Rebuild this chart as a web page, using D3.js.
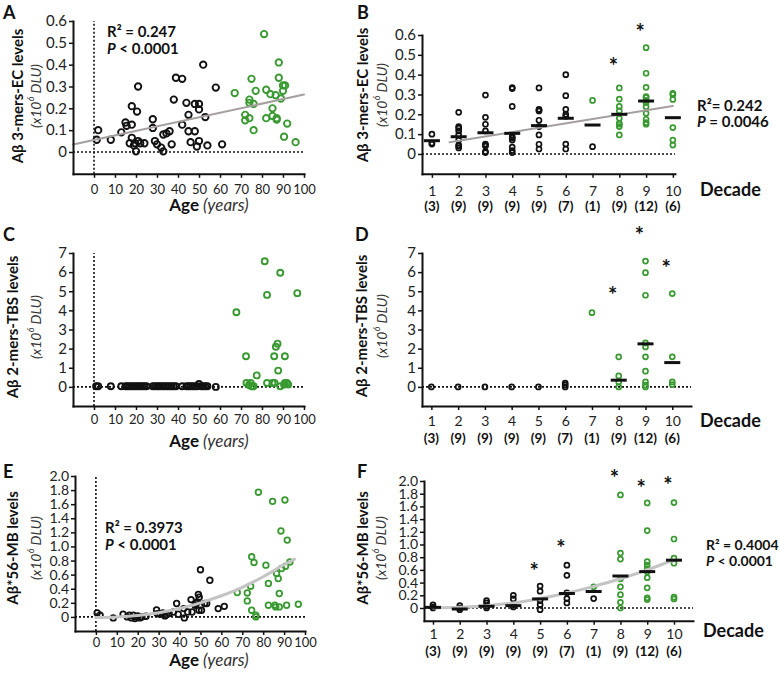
<!DOCTYPE html>
<html><head><meta charset="utf-8">
<script src="https://cdn.jsdelivr.net/npm/d3@7"></script>
<style>body{margin:0;background:#fff}svg{display:block}text{font-family:Lato,'Open Sans',sans-serif}</style>
</head><body><svg id="c" width="780" height="673"></svg>
<script>
// ---------- DATA ----------
const ageTicks = [0,10,20,30,40,50,60,70,80,90,100];
const decades = [1,2,3,4,5,6,7,8,9,10];
const decadeCounts = ["(3)","(9)","(9)","(9)","(9)","(7)","(1)","(9)","(12)","(6)"];
const ticksEC = [0,0.1,0.2,0.3,0.4,0.5,0.6];
const ticksTBS = [0,1,2,3,4,5,6,7];
const ticksMB = [0,0.2,0.4,0.6,0.8,1.0,1.2,1.4,1.6,1.8,2.0];

// Panel A: age vs 3-mers-EC
const panelA_black = [[1.3,0.056],[2,0.10],[8,0.056],[13,0.09],[15,0.135],[15.5,0.12],[18,0.21],[18,0.125],[17,0.04],[18,0.065],[19.5,0.04],[20,0.003],[20.5,0.185],[21,0.30],[22,0.04],[24,0.04],[28,0.15],[28,0.11],[29,0.05],[30,0.035],[32,0.02],[33,0.003],[33,0.08],[34.5,0.085],[36,0.095],[37,0.035],[38,0.24],[39,0.34],[42,0.335],[42,0.125],[44,0.225],[45,0.17],[45,0.095],[46,0.045],[48,0.22],[48,0.095],[49,0.025],[50,0.22],[50,0.195],[50,0.05],[52,0.40],[53,0.16],[54,0.03],[58,0.295],[61,0.035],[19,0.03],[21,0.05]];
const panelA_green = [[67,0.27],[72,0.17],[72,0.145],[74,0.24],[74,0.225],[74,0.155],[75,0.335],[76,0.22],[76,0.10],[77,0.28],[81,0.54],[82,0.285],[82,0.155],[84,0.265],[85,0.20],[85,0.165],[86.5,0.26],[87,0.155],[87,0.148],[88,0.41],[88,0.34],[89,0.245],[90,0.28],[90,0.305],[91,0.305],[92,0.13],[90.5,0.07],[96,0.045]];
const panelA_fit = [[-10,0.034],[100,0.263]];

// Panel B: decade vs 3-mers-EC
const panelB_black = [[1,0.10],[1,0.05],[1,0.055],
 [2,0.21],[2,0.138],[2,0.13],[2,0.116],[2,0.096],[2,0.07],[2,0.045],[2,0.03],[2,0.04],
 [3,0.297],[3,0.185],[3,0.15],[3,0.116],[3,0.05],[3,0.04],[3,0.012],[3,0.007],[3,0.045],
 [4,0.335],[4,0.24],[4,0.087],[4,0.07],[4,0.035],[4,0.017],[4,0.007],[4,0.33],[4,0.08],
 [5,0.333],[5,0.225],[5,0.217],[5,0.17],[5,0.138],[5,0.096],[5,0.049],[5,0.025],[5,0.22],
 [6,0.40],[6,0.294],[6,0.225],[6,0.2],[6,0.05],[6,0.025],[6,0.19],
 [7,0.037]];
const panelB_green = [[7,0.27],
 [8,0.333],[8,0.277],[8,0.24],[8,0.218],[8,0.18],[8,0.155],[8,0.138],[8,0.096],[8,0.15],
 [9,0.536],[9,0.407],[9,0.336],[9,0.289],[9,0.27],[9,0.238],[9,0.205],[9,0.175],[9,0.158],[9,0.15],[9,0.26],[9,0.285],
 [10,0.306],[10,0.275],[10,0.133],[10,0.07],[10,0.045],[10,0.3]];
const panelB_medians = [0.067,0.087,0.107,0.104,0.143,0.18,0.146,0.2,0.267,0.183];
const panelB_fit = [[1.66,0.059],[10,0.242]];
const panelB_stars = [[8,0.459],[9,0.63]];

// Panel C: age vs 2-mers-TBS
const panelC_black = [[1,0.03],[2,0.03],[8,0.03],[13,0.03],[15,0.03],[16,0.03],[17,0.03],[18,0.03],[19,0.03],[20,0.03],[21,0.03],[22,0.03],[23,0.03],[24,0.03],[25,0.03],[28,0.03],[29,0.03],[30,0.03],[31,0.03],[32,0.03],[33,0.03],[34,0.03],[35,0.03],[36,0.03],[37,0.03],[38,0.03],[39,0.03],[42,0.03],[44,0.03],[45,0.03],[46,0.03],[47,0.03],[48,0.03],[49,0.03],[50,0.15],[51,0.03],[52,0.03],[53,0.03],[54,0.03],[58,0.0]];
const panelC_green = [[67.8,3.9],[72.4,1.6],[72.6,0.2],[74.6,0.2],[75,0.03],[76,0.03],[77.5,0.6],[81.3,6.57],[82.4,4.81],[82.4,0.2],[85,0.2],[85.8,1.6],[86.6,2.1],[87.4,2.26],[87.7,0.85],[88.7,5.97],[88.7,0.03],[90.9,1.6],[90.9,0.2],[91.9,0.2],[92.5,0.12],[96.8,4.9],[86,0.2],[90.5,0.12],[73.8,0.1],[75.5,0.03]];

// Panel D: decade vs 2-mers-TBS
const panelD_black = [[1,0],[2,0],[3,0],[4,0],[5,0],[6,0],[6,0.1],[6,0.2]];
const panelD_green = [[7,3.88],[8,1.57],[8,0.57],[8,0.26],[8,0],[9,6.58],[9,5.97],[9,4.79],[9,2.3],[9,2.09],[9,1.57],[9,0.82],[9,0.26],[9,0.09],[9,0],[10,4.88],[10,1.57],[10,0.26],[10,0.12]];
const panelD_medians = [[8,0.35],[9,2.25],[10,1.27]];
const panelD_stars = [[8,4.96],[9,8.1],[10,6.37]];

// Panel E: age vs Ab*56-MB
const panelE_black = [[0.6,0.057],[2,0.024],[8.3,-0.014],[13,0.038],[15,0],[16,0.024],[17,-0.014],[17.9,0.024],[18.7,-0.024],[19.5,0],[20,0.014],[21,-0.014],[22,0],[24,0.01],[29,0.10],[29.3,0.047],[30.6,0.038],[32,0.057],[33,0.014],[33.8,0.033],[35,0.047],[37,0.07],[38.6,0.19],[39.4,0.038],[42,0.118],[42.3,-0.014],[43.9,0.07],[45.5,0.246],[46,0.07],[47.4,0.166],[48,0.19],[48.5,0.213],[49,0.32],[49.3,0.095],[49.4,0.28],[50,0.67],[50.5,0.095],[52,0.19],[53,0.19],[54.5,0.52],[58.5,0.118],[61.4,0.15]];
const panelE_green = [[67.6,0.346],[72.4,0.34],[72.4,0.227],[74,0.436],[74.5,0.095],[74.5,0.853],[75.6,0.773],[76.5,0.024],[76.5,0],[77.7,1.77],[81.3,0.735],[82.5,0.474],[82.5,0.166],[84.5,1.64],[85.6,0.166],[86,0.142],[86.4,0.616],[87.2,0.545],[87.7,0.332],[87.7,0.142],[88.5,1.22],[88.8,0.687],[90.4,1.66],[90.7,0.72],[91.2,0.166],[91.5,1.09],[92.8,0.78],[96.8,0.18]];
const panelE_fit = [[0,-0.01],[10,0],[20,0.02],[30,0.06],[40,0.12],[50,0.2],[60,0.3],[70,0.42],[80,0.57],[90,0.74],[95,0.82]];

// Panel F: decade vs Ab*56-MB
const panelF_black = [[1,0.05],[1,0.016],[1,0],[2,0.037],[2,0],[2,-0.027],[3,0.117],[3,0.08],[3,0.027],[3,0],[4,0.2],[4,0.143],[4,0.053],[4,0.016],[5,0.345],[5,0.265],[5,0.117],[5,0.053],[5,-0.027],[6,0.674],[6,0.515],[6,0.24],[6,0.149],[6,0.08],[7,0.149]];
const panelF_green = [[7,0.334],[8,1.78],[8,0.865],[8,0.77],[8,0.46],[8,0.334],[8,0.21],[8,0.09],[8,0],[9,1.655],[9,1.22],[9,0.73],[9,0.674],[9,0.62],[9,0.57],[9,0.477],[9,0.318],[9,0.16],[9,0.133],[10,1.66],[10,1.087],[10,0.785],[10,0.705],[10,0.17],[10,0.143]];
const panelF_medians = [0.01,-0.016,0.027,0.037,0.143,0.228,0.26,0.504,0.573,0.753];
const panelF_fit = [[1,0],[2,0.01],[3,0.035],[4,0.08],[5,0.15],[6,0.235],[7,0.34],[8,0.46],[9,0.6],[10,0.76]];
const panelF_stars = [[5,0.63],[6,0.99],[8,2.09],[9,1.94],[10,1.98]];

// ---------- DRAW ----------
const GREEN = "#3a9a32", INK = "#111";
const svg = d3.select("#c");
const FONT = "Lato,'Open Sans',sans-serif";
const fmt1 = d => d === 0 ? "0" : d3.format(".1f")(d);

function styleAxis(g, fs){
  g.attr("font-family", null).attr("font-size", null);
  g.select(".domain").attr("stroke", INK).attr("stroke-width", 2).attr("stroke-linecap","square");
  g.selectAll(".tick line").attr("stroke", INK).attr("stroke-width", 1.5);
  g.selectAll(".tick text").attr("fill", "#222").style("font-size", fs + "px").style("font-family", FONT);
}
function axes(x, y, yTicks, yFmt, xTicks, xPad, yFs, xFs){
  const gy = svg.append("g").attr("transform", `translate(${x.range()[0]},0)`)
    .call(d3.axisLeft(y).tickValues(yTicks).tickFormat(yFmt).tickSize(4).tickSizeOuter(0).tickPadding(2));
  styleAxis(gy, yFs);
  const gx = svg.append("g").attr("transform", `translate(0,${y.range()[0]})`)
    .call(d3.axisBottom(x).tickValues(xTicks).tickFormat(d => d).tickSize(4).tickSizeOuter(0).tickPadding(xPad));
  styleAxis(gx, xFs);
}
function zeroLines(x, y, vertical){
  svg.append("line").attr("x1", x.range()[0]).attr("x2", x.range()[1]).attr("y1", y(0)).attr("y2", y(0))
    .attr("stroke", INK).attr("stroke-width", 1.6).attr("stroke-dasharray", "2,2");
  if (vertical) svg.append("line").attr("x1", x(0)).attr("x2", x(0)).attr("y1", y.range()[0]).attr("y2", y.range()[1])
    .attr("stroke", INK).attr("stroke-width", 1.6).attr("stroke-dasharray", "2,2");
}
function dots(data, x, y, r, sw, color){
  svg.append("g").selectAll("circle").data(data).join("circle")
    .attr("cx", d => x(d[0])).attr("cy", d => y(d[1])).attr("r", r)
    .attr("fill", "none").attr("stroke", color).attr("stroke-width", sw);
}
function fitLine(data, x, y, color, w, curve){
  svg.append("path").datum(data).attr("d", d3.line().x(d => x(d[0])).y(d => y(d[1])).curve(curve || d3.curveLinear))
    .attr("fill", "none").attr("stroke", color).attr("stroke-width", w).attr("stroke-linecap","round");
}
function medianBars(data, x, y){
  svg.append("g").selectAll("line").data(data).join("line")
    .attr("x1", d => x(d[0]) - 8).attr("x2", d => x(d[0]) + 8)
    .attr("y1", d => y(d[1])).attr("y2", d => y(d[1]))
    .attr("stroke", INK).attr("stroke-width", 3);
}
function stars(data, x, y){
  svg.append("g").selectAll("text").data(data).join("text")
    .attr("x", d => x(d[0]) - 6).attr("y", d => y(d[1]) + 11)
    .attr("text-anchor", "middle").style("font-size", "22px").style("font-weight", "bold").attr("fill", INK).text("*");
}
function yTitle(cx1, cx2, cy, main){
  svg.append("text").attr("transform", `translate(${cx1},${cy}) rotate(-90)`)
    .attr("text-anchor", "middle").attr("dominant-baseline", "central")
    .style("font-weight", "bold").style("font-size", "15px").attr("fill", INK).text(main);
  const t = svg.append("text").attr("transform", `translate(${cx2},${cy}) rotate(-90)`)
    .attr("text-anchor", "middle").attr("dominant-baseline", "central")
    .style("font-style", "italic").style("font-size", "14px").attr("fill", "#333");
  t.append("tspan").text("(x10");
  t.append("tspan").attr("dy", -5).style("font-size", "9px").text("6");
  t.append("tspan").attr("dy", 5).text(" DLU)");
}
function ageTitle(cx, by){
  const t = svg.append("text").attr("x", cx).attr("y", by).attr("text-anchor", "middle").style("font-size", "17px").attr("fill", INK);
  t.append("tspan").style("font-weight", "bold").text("Age ");
  t.append("tspan").style("font-style", "italic").attr("fill","#333").text("(years)");
}
function decadeExtras(x, by, dx, dy){
  svg.append("g").selectAll("text").data(decades).join("text")
    .attr("x", d => x(d)).attr("y", by).attr("text-anchor", "middle")
    .style("font-size", "13.5px").style("font-weight", "bold").attr("fill", INK)
    .text((d, i) => decadeCounts[i]);
  svg.append("text").attr("x", dx).attr("y", dy).style("font-size", "18px").style("font-weight", "bold").attr("fill", INK).text("Decade");
}
function stat(x0, y1, y2, r2, pSym, pVal, fs){
  svg.append("text").attr("x", x0).attr("y", y1).style("font-size", fs + "px").style("font-weight", "bold").attr("fill", INK).text(r2);
  const t = svg.append("text").attr("x", x0).attr("y", y2).style("font-size", fs + "px").style("font-weight", "bold").attr("fill", INK);
  t.append("tspan").style("font-style", "italic").text("P");
  t.append("tspan").text(" " + pSym + " " + pVal);
}
function letter(t, x, y){
  svg.append("text").attr("x", x).attr("y", y).style("font-size", "18px").style("font-weight", "bold").attr("fill", INK).text(t);
}

// Panel A
{
  const x = d3.scaleLinear().domain([-10, 100]).range([73, 304]);
  const y = d3.scaleLinear().domain([-0.1, 0.6]).range([173.8, 21]);
  zeroLines(x, y, true);
  dots(panelA_black, x, y, 3.2, 1.9, INK);
  dots(panelA_green, x, y, 3.2, 1.9, GREEN);
  fitLine(panelA_fit, x, y, "#a59f9f", 2);
  axes(x, y, ticksEC, fmt1, ageTicks, 7, 15, 13);
  yTitle(17, 35, 96, "Aβ 3-mers-EC levels");
  ageTitle(209, 211);
  stat(107, 37, 54, "R² = 0.247", "<", "0.0001", 15);
  letter("A", 3, 19);
}
// Panel B
{
  const x = d3.scaleLinear().domain([0.63, 10.08]).range([422, 675]);
  const y = d3.scaleLinear().domain([-0.1, 0.6]).range([173.8, 35]);
  zeroLines(x, y, false);
  dots(panelB_black, x, y, 2.5, 1.7, INK);
  dots(panelB_green, x, y, 2.5, 1.7, GREEN);
  fitLine(panelB_fit, x, y, "#a59f9f", 2);
  medianBars(decades.map((d, i) => [d, panelB_medians[i]]), x, y);
  stars(panelB_stars, x, y);
  axes(x, y, ticksEC, fmt1, decades, 8, 15, 14);
  decadeExtras(x, 211, 700, 196);
  yTitle(362, 381, 95, "Aβ 3-mers-EC levels");
  stat(697, 111, 127, "R²= 0.242", "=", "0.0046", 15);
  letter("B", 357, 19);
}
// Panel C
{
  const x = d3.scaleLinear().domain([-10, 100]).range([73, 304]);
  const y = d3.scaleLinear().domain([-1, 7]).range([406, 253]);
  zeroLines(x, y, true);
  dots(panelC_black, x, y, 3, 1.9, INK);
  dots(panelC_green, x, y, 3, 1.9, GREEN);
  axes(x, y, ticksTBS, d => d, ageTicks, 5, 15, 13);
  yTitle(12, 35, 327, "Aβ 2-mers-TBS levels");
  ageTitle(209, 447);
  letter("C", 3, 241);
}
// Panel D
{
  const x = d3.scaleLinear().domain([0.65, 10.7]).range([422, 691]);
  const y = d3.scaleLinear().domain([-1, 7]).range([406, 253]);
  zeroLines(x, y, false);
  dots(panelD_black, x, y, 2.5, 1.7, INK);
  dots(panelD_green, x, y, 2.5, 1.7, GREEN);
  medianBars(panelD_medians, x, y);
  stars(panelD_stars, x, y);
  axes(x, y, ticksTBS, d => d, decades, 6, 15, 14);
  decadeExtras(x, 443, 700, 427);
  yTitle(361, 381, 326, "Aβ 2-mers-TBS levels");
  letter("D", 355, 241);
}
// Panel E
{
  const x = d3.scaleLinear().domain([-10, 100]).range([75, 305]);
  const y = d3.scaleLinear().domain([-0.2, 2.0]).range([631, 476]);
  zeroLines(x, y, true);
  dots(panelE_black, x, y, 2.8, 1.8, INK);
  dots(panelE_green, x, y, 2.8, 1.8, GREEN);
  fitLine(panelE_fit, x, y, "#c4c4c4", 3, d3.curveMonotoneX);
  axes(x, y, ticksMB, fmt1, ageTicks, 3, 14, 13);
  yTitle(12, 35, 548, "Aβ*56-MB levels");
  ageTitle(209, 666);
  stat(105, 533, 550, "R² = 0.3973", "<", "0.0001", 15);
  letter("E", 3, 478);
}
// Panel F
{
  const x = d3.scaleLinear().domain([0.664, 10.71]).range([424, 693]);
  const y = d3.scaleLinear().domain([-0.2, 2.0]).range([620.7, 481]);
  zeroLines(x, y, false);
  dots(panelF_black, x, y, 2.5, 1.7, INK);
  dots(panelF_green, x, y, 2.5, 1.7, GREEN);
  fitLine(panelF_fit, x, y, "#c4c4c4", 3, d3.curveMonotoneX);
  medianBars(decades.map((d, i) => [d, panelF_medians[i]]), x, y);
  stars(panelF_stars, x, y);
  axes(x, y, ticksMB, fmt1, decades, 4, 14, 14);
  decadeExtras(x, 656, 703, 637);
  yTitle(362, 380, 548, "Aβ*56-MB levels");
  stat(706, 550, 566, "R² = 0.4004", "<", "0.0001", 14);
  letter("F", 357, 478);
}
</script></body></html>
